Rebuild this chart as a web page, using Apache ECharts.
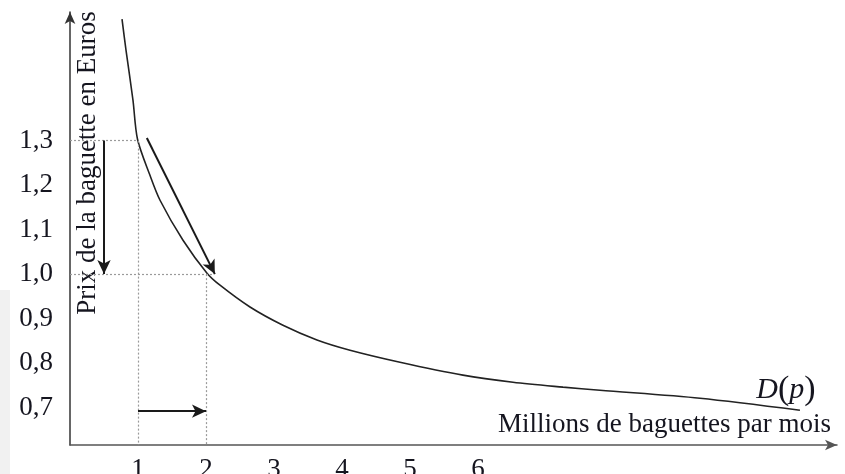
<!DOCTYPE html>
<html>
<head>
<meta charset="utf-8">
<script src="https://cdn.jsdelivr.net/npm/echarts@6/dist/echarts.min.js"></script>
<style>
html,body{margin:0;padding:0;background:#fff;}
#chart{width:845px;height:474px;}
</style>
</head>
<body>
<div id="chart"></div>
<script>
// Demand curve D(p): quantity (millions) vs price (euros)
const curveQty   = [0.765, 0.824, 0.926, 0.993, 1.176, 1.324, 1.662, 2.015, 2.206, 2.647, 3.132, 3.632, 4.118, 4.853, 5.779, 6.515, 7.25, 7.794, 9.265, 10.735];
const curvePrice = [1.573, 1.503, 1.391, 1.303, 1.222, 1.166, 1.076, 1.002, 0.975, 0.926, 0.885, 0.852, 0.829, 0.802, 0.773, 0.757, 0.746, 0.739, 0.721, 0.694];
const xTickLabels = [1, 2, 3, 4, 5, 6];
const yTickLabels = [0.7, 0.8, 0.9, 1.0, 1.1, 1.2, 1.3];
// guide values
const priceHigh = 1.3, priceLow = 1.0;
const qtyLow = 1, qtyHigh = 2;
// arrows: [from, to]
const arrowPriceDrop = [[0.5, 1.3], [0.5, 1.0]];
const arrowAlongCurve = [[1.13, 1.306], [2.13, 1.0]];
const arrowQtyRise = [[1.0, 0.692], [2.0, 0.692]];

const xMin = 0, xMax = 11.28, yMin = 0.616, yMax = 1.589;
const serif = '"Liberation Serif", "DejaVu Serif", serif';
const txt = '#15151f';

const chart = echarts.init(document.getElementById('chart'), null, {renderer: 'canvas'});

const dotted = {color: '#9a9a9a', width: 1.2, type: [2, 2]};
const guideData = [
  [{coord: [xMin, priceHigh]}, {coord: [qtyLow, priceHigh]}],
  [{coord: [qtyLow, priceHigh]}, {coord: [qtyLow, yMin]}],
  [{coord: [xMin, priceLow]}, {coord: [qtyHigh + 0.1, priceLow]}],
  [{coord: [qtyHigh, priceLow]}, {coord: [qtyHigh, yMin]}]
];
const arrowData = [arrowPriceDrop, arrowAlongCurve, arrowQtyRise].map(a => [
  {coord: a[0]}, {coord: a[1]}
]);

chart.setOption({
  animation: false,
  backgroundColor: '#fff',
  grid: {left: 70, right: 8, top: 12, bottom: 29, containLabel: false, outerBoundsMode: 'none'},
  xAxis: {
    type: 'value', min: xMin, max: xMax,
    axisLine: {show: true, lineStyle: {color: '#555', width: 1.5}, symbol: ['none', 'arrow'], symbolSize: [8, 12]},
    axisTick: {show: false},
    splitLine: {show: false},
    axisLabel: {customValues: xTickLabels, color: txt, fontFamily: serif, fontSize: 27, margin: 11}
  },
  yAxis: {
    type: 'value', min: yMin, max: yMax,
    axisLine: {show: true, lineStyle: {color: '#333', width: 1.5}, symbol: ['none', 'arrow'], symbolSize: [8, 12]},
    axisTick: {show: false},
    splitLine: {show: false},
    axisLabel: {
      customValues: yTickLabels, color: txt, fontFamily: serif, fontSize: 27, margin: 17,
      formatter: v => v.toFixed(1).replace('.', ',')
    }
  },
  series: [
    {
      type: 'line', silent: true,
      data: [],
      markLine: {silent: true, symbol: ['none', 'none'], label: {show: false}, lineStyle: dotted, data: guideData}
    },
    {
      type: 'line', silent: true,
      data: [],
      markLine: {silent: true, symbol: ['none', 'arrow'], symbolSize: [10, 14], label: {show: false},
        lineStyle: {color: '#1a1a1a', width: 2, type: 'solid'}, data: arrowData}
    },
    {
      type: 'line', silent: true, smooth: 0.3, showSymbol: false,
      lineStyle: {color: '#222', width: 1.6},
      data: curveQty.map((q, i) => [q, curvePrice[i]])
    }
  ],
  graphic: [
    {type: 'rect', shape: {x: 0, y: 290, width: 10, height: 184}, style: {fill: '#f1f1f1'}, z: -1},
    {type: 'text', x: 88, y: 163, rotation: Math.PI / 2,
      style: {text: 'Prix de la baguette en Euros', fill: txt, font: '27px ' + serif, align: 'center', verticalAlign: 'middle'}},
    {type: 'text', x: 831, y: 425,
      style: {text: 'Millions de baguettes par mois', fill: txt, font: '27px ' + serif, align: 'right', verticalAlign: 'middle'}},
    {type: 'text', x: 786, y: 390,
      style: {
        text: '{i|D}{b|(}{i|p}{b|)}', align: 'center', verticalAlign: 'middle', fill: txt,
        rich: {
          i: {font: 'italic 30px ' + serif, fill: txt},
          b: {font: '34px ' + serif, fill: txt}
        }
      }}
  ]
});
</script>
</body>
</html>
